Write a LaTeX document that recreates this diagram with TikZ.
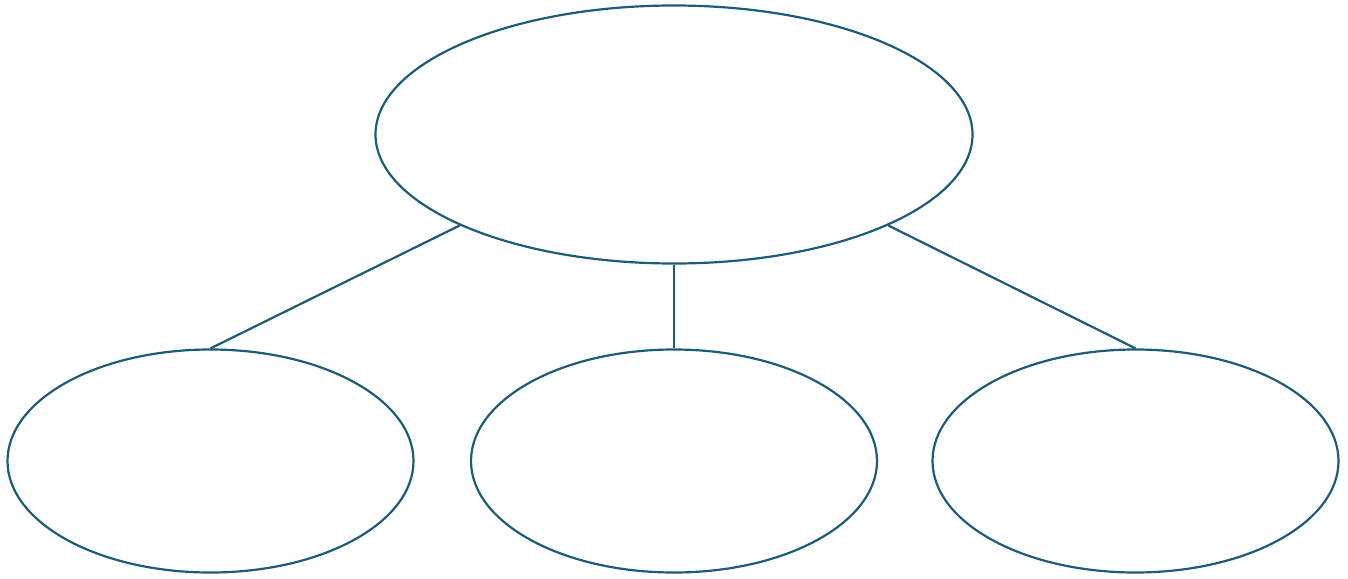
\documentclass[tikz,border=0pt]{standalone}
\usepackage{tikz}
\usetikzlibrary{shapes.geometric, positioning}
\definecolor{linkblue}{HTML}{1C5C76}

\begin{document}
\begin{tikzpicture}[x=1pt, y=-1pt,
  bubble/.style={ellipse, draw=linkblue, line width=2.2pt, inner sep=0pt},
  link/.style={draw=linkblue, line width=2.2pt}]
  \useasboundingbox (0,0) rectangle (1348,578);
  \node[bubble, minimum width=597pt, minimum height=258pt] (root) at (674,134.5) {};
  \node[bubble, minimum width=406pt, minimum height=223pt] (left) at (210.5,461) {};
  \node[bubble, minimum width=406pt, minimum height=223pt] (mid) at (674,461) {};
  \node[bubble, minimum width=406pt, minimum height=223pt] (right) at (1135.5,461) {};
  \draw[link] (root.203) -- (left.north);
  \draw[link] (root.south) -- (mid.north);
  \draw[link] (root.337) -- (right.north);
\end{tikzpicture}
\end{document}
